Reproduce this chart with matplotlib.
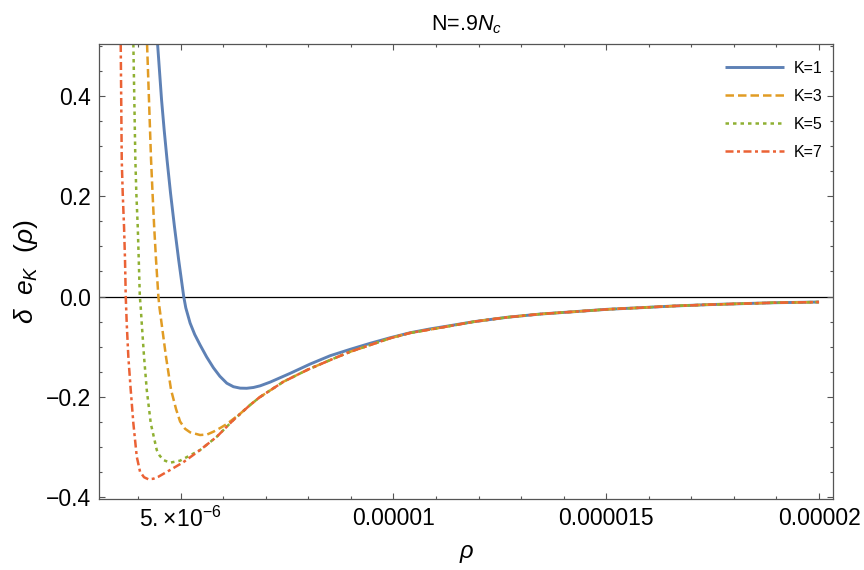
import matplotlib
matplotlib.use("Agg")
import matplotlib.pyplot as plt
from matplotlib.ticker import FixedLocator, MultipleLocator
import numpy as np

# ---- data (rho in units of 1e-6) ----
rho_k1 = [4.457, 4.551, 4.612, 4.680, 4.762, 4.854, 4.953, 5.071, 5.120, 5.221, 5.330, 5.456,
          5.610, 5.769, 5.920, 6.084, 6.240, 6.397, 6.550, 6.710, 6.867, 7.103, 7.573, 8.043,
          8.514, 8.984, 9.454, 9.925, 10.395, 10.865, 11.336, 11.884, 12.669, 13.453, 14.236,
          15.021, 15.804, 16.587, 17.373, 18.156, 18.939, 20.0]
d_k1 = [0.503, 0.3914, 0.3317, 0.2719, 0.2056, 0.139, 0.0727, 0.0, -0.0225, -0.0528, -0.0757,
        -0.0965, -0.1204, -0.1419, -0.1588, -0.1727, -0.1797, -0.1825, -0.1828, -0.1812, -0.1779,
        -0.1705, -0.153, -0.1345, -0.1179, -0.1052, -0.0932, -0.0821, -0.0721, -0.0645, -0.0580,
        -0.0502, -0.0414, -0.0349, -0.0303, -0.0255, -0.0223, -0.0189, -0.0163, -0.0143, -0.0124,
        -0.011]

# common tail shared by K=3,5,7
rho_tail = [6.632, 6.85, 7.415, 8.003, 8.514, 8.984, 9.454, 9.925, 10.395, 11.101, 11.884,
            12.669, 13.453, 14.236, 15.021, 15.804, 16.587, 17.373, 18.156, 18.939, 20.0]
d_tail = [-0.216, -0.201, -0.1697, -0.145, -0.1265, -0.110, -0.0966, -0.083, -0.0725, -0.0622,
          -0.0502, -0.0414, -0.0349, -0.0303, -0.0255, -0.0223, -0.0189, -0.0163, -0.0143,
          -0.0124, -0.011]

rho_k3 = [4.210, 4.304, 4.339, 4.377, 4.421, 4.476, 4.499, 4.551, 4.655, 4.774, 4.892, 4.986,
          5.103, 5.221, 5.456, 5.621, 5.769, 5.927, 6.084, 6.397] + rho_tail
d_k3 = [0.503, 0.272, 0.2056, 0.139, 0.0727, 0.0, -0.0203, -0.0534, -0.120, -0.186, -0.2245,
        -0.2490, -0.2635, -0.2705, -0.2759, -0.2749, -0.2693, -0.262, -0.2540, -0.2335] + d_tail

rho_k5 = [3.888, 3.935, 3.958, 3.991, 4.015, 4.040, 4.060, 4.085, 4.139, 4.203, 4.297, 4.438,
          4.504, 4.593, 4.751, 4.986, 5.456, 5.849, 6.239] + rho_tail
d_k5 = [0.503, 0.272, 0.2056, 0.139, 0.0727, 0.0, -0.0203, -0.0534, -0.120, -0.186, -0.2526,
        -0.3058, -0.3167, -0.3257, -0.331, -0.3270, -0.3058, -0.2793, -0.246] + d_tail

rho_k7 = [3.591, 3.615, 3.638, 3.669, 3.692, 3.709, 3.732, 3.770, 3.826, 3.888, 3.968, 4.045,
          4.139, 4.240, 4.358, 4.476, 4.751, 5.063, 5.456, 5.849, 6.239] + rho_tail
d_k7 = [0.503, 0.272, 0.2056, 0.139, 0.0727, 0.0, -0.0534, -0.120, -0.186, -0.2526, -0.319,
        -0.349, -0.360, -0.364, -0.363, -0.359, -0.3456, -0.3300, -0.3058, -0.2793, -0.246] + d_tail

labels = ["K=1", "K=3", "K=5", "K=7"]
colors = ["#5E81B5", "#E19C24", "#8FB032", "#EB6235"]

xticks = [5e-6, 1e-5, 1.5e-5, 2e-5]
xticklabels = [r"$5.\!\times\!10^{-6}$", "0.00001", "0.000015", "0.00002"]
yticks = [-0.4, -0.2, 0.0, 0.2, 0.4]
yticklabels = ["\u22120.4", "\u22120.2", "0.0", "0.2", "0.4"]

plt.rcParams['font.family'] = ['Liberation Sans', 'DejaVu Sans']
plt.rcParams['mathtext.fontset'] = 'custom'
plt.rcParams['mathtext.rm'] = 'Liberation Sans'
plt.rcParams['mathtext.it'] = 'Liberation Sans:italic'

fig = plt.figure(figsize=(8.64, 5.70), dpi=100)
ax = fig.add_axes([0.1147, 0.1254, 0.8498, 0.7974])

scale = 1e-6
series = [(rho_k1, d_k1), (rho_k3, d_k3), (rho_k5, d_k5), (rho_k7, d_k7)]
styles = ['-', (0, (3.4, 1.6)), (0, (1.4, 1.6)), (0, (3.2, 1.4, 1.2, 1.4))]
for (r, d), lab, c, ls in zip(series, labels, colors, styles):
    ax.plot(np.array(r) * scale, d, color=c, lw=2.1 if ls == '-' else 1.8,
            linestyle=ls, label=lab, solid_capstyle='butt', dash_capstyle='butt',
            solid_joinstyle='round')

ax.axhline(0, color='black', lw=0.9, zorder=1)

ax.set_xlim(3.083e-6, 2.0336e-5)
ax.set_ylim(-0.4024, 0.503)

ax.xaxis.set_major_locator(FixedLocator(xticks))
ax.set_xticklabels(xticklabels)
ax.xaxis.set_minor_locator(MultipleLocator(1e-6))
ax.yaxis.set_major_locator(FixedLocator(yticks))
ax.set_yticklabels(yticklabels)
ax.yaxis.set_minor_locator(MultipleLocator(0.05))

frame_c = '#555555'
for s in ax.spines.values():
    s.set_color(frame_c)
    s.set_linewidth(0.9)
ax.tick_params(which='both', direction='in', top=True, right=True, color=frame_c,
               labelsize=16.5, labelcolor='black', width=0.8)
ax.tick_params(which='major', length=4.5, pad=6)
ax.tick_params(which='minor', length=2.5)

ax.set_title(r"N=.9$N_c$", fontsize=15.5, pad=10)
ax.set_xlabel(r"$\rho$", fontsize=17, labelpad=8)
ax.set_ylabel(r"$\delta\ \ e_K\ \ (\rho)$", fontsize=19, labelpad=4)

leg = ax.legend(loc='upper right', bbox_to_anchor=(0.9846, 0.9626), frameon=False,
                borderaxespad=0, borderpad=0,
                fontsize=11.5, handlelength=3.7, handletextpad=0.56, labelspacing=0.81)

fig.savefig("out.png", dpi=100)
